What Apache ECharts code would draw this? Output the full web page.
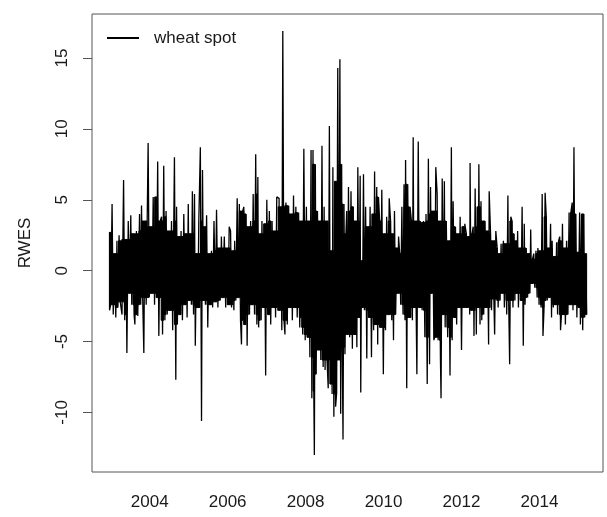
<!DOCTYPE html>
<html>
<head>
<meta charset="utf-8">
<script src="https://cdn.jsdelivr.net/npm/echarts@6/dist/echarts.min.js"></script>
<style>
html,body{margin:0;padding:0;background:#fff;}
#chart{width:607px;height:517px;}
</style>
</head>
<body>
<div id="chart"></div>
<script>
// Series name and axis labels
const seriesName = 'wheat spot';
const yAxisName = 'RWES';
const xTickYears = [2004, 2006, 2008, 2010, 2012, 2014];
const yTickValues = [-10, -5, 0, 5, 10, 15];

// Upper envelope of the daily series: [decimal year, value]
const upperEnvelope = [
[2002.97,2.7],[2003.04,4.7],[2003.11,1.2],[2003.17,2.1],[2003.23,2.5],[2003.34,6.4],[2003.40,2.2],[2003.47,3.5],[2003.54,3.9],[2003.60,2.6],[2003.68,2.8],[2003.77,4.0],[2003.81,4.6],[2003.88,3.5],[2003.98,9.0],[2004.05,3.1],[2004.11,5.2],[2004.15,5.2],[2004.21,7.7],[2004.28,3.5],[2004.33,3.8],[2004.39,7.4],[2004.45,4.2],[2004.51,2.8],[2004.58,3.5],[2004.67,8.0],[2004.71,4.5],[2004.77,2.4],[2004.84,2.8],[2004.91,4.0],[2004.95,2.6],[2005.01,4.7],[2005.06,2.6],[2005.11,5.6],[2005.16,5.4],[2005.22,1.2],[2005.27,3.5],[2005.33,8.7],[2005.38,7.1],[2005.42,3.1],[2005.48,3.9],[2005.54,1.2],[2005.61,1.4],[2005.68,3.5],[2005.74,4.3],[2005.80,1.6],[2005.86,2.4],
[2005.95,2.4],[2005.99,1.6],[2006.05,3.1],[2006.10,2.8],[2006.16,1.4],[2006.20,2.1],[2006.27,5.1],[2006.33,4.7],[2006.39,4.2],[2006.44,4.5],[2006.50,4.0],[2006.56,3.1],[2006.62,3.5],[2006.68,5.4],[2006.74,8.2],[2006.79,6.6],[2006.85,2.6],[2006.89,3.5],[2006.96,3.3],[2007.02,5.0],[2007.08,4.2],[2007.15,3.5],[2007.21,2.8],[2007.27,5.2],[2007.32,5.1],[2007.39,4.5],[2007.44,16.9],[2007.50,4.8],[2007.57,4.6],[2007.64,4.0],[2007.70,5.3],[2007.76,4.5],[2007.83,4.1],[2007.92,3.5],[2007.98,8.6],[2008.04,4.5],[2008.09,3.5],[2008.15,8.5],[2008.21,8.5],[2008.26,7.5],[2008.33,4.2],[2008.39,3.5],[2008.45,8.8],[2008.50,4.5],[2008.54,3.5],[2008.62,10.2],[2008.67,1.4],[2008.71,7.3],[2008.77,6.3],[2008.83,14.3],[2008.89,14.9],[2008.94,7.5],[2008.99,4.7],[2009.04,2.6],
[2009.07,4.2],[2009.13,5.9],[2009.20,5.6],[2009.24,4.5],[2009.30,3.5],[2009.35,7.3],[2009.41,6.7],[2009.45,0.7],[2009.50,6.8],[2009.56,4.5],[2009.61,3.1],[2009.67,4.5],[2009.73,4.0],[2009.78,7.0],[2009.84,5.9],[2009.88,5.2],[2009.92,3.5],[2009.98,5.7],[2010.03,2.6],[2010.09,3.8],[2010.15,5.1],[2010.21,3.5],[2010.24,2.6],[2010.29,4.2],[2010.35,1.6],[2010.39,2.4],[2010.44,1.2],[2010.50,4.5],[2010.55,6.1],[2010.58,7.8],[2010.63,6.1],[2010.69,4.5],[2010.74,3.5],[2010.78,9.4],[2010.84,3.5],[2010.91,9.1],[2010.95,3.5],[2010.99,3.4],[2011.06,3.5],[2011.12,4.0],[2011.18,7.9],[2011.23,5.9],[2011.29,4.2],[2011.35,7.3],[2011.40,5.4],[2011.46,3.5],[2011.52,6.5],[2011.57,6.3],[2011.63,3.5],[2011.69,2.1],[2011.76,8.7],[2011.81,4.9],[2011.86,3.1],[2011.92,2.6],[2011.98,3.8],[2012.04,3.1],[2012.10,3.3],
[2012.15,2.6],[2012.21,2.4],[2012.23,7.6],[2012.28,2.6],[2012.32,3.1],[2012.38,5.8],[2012.43,4.5],[2012.46,7.5],[2012.51,4.9],[2012.57,3.5],[2012.63,3.5],[2012.69,2.8],[2012.72,5.6],[2012.77,2.6],[2012.83,2.1],[2012.89,2.8],[2012.94,1.6],[2012.98,1.2],[2013.03,1.9],[2013.09,2.1],[2013.15,1.9],[2013.21,5.3],[2013.27,3.8],[2013.32,3.5],[2013.37,2.6],[2013.40,2.1],[2013.45,2.8],[2013.51,1.6],[2013.57,4.5],[2013.62,3.3],[2013.68,1.6],[2013.74,1.2],[2013.78,2.9],[2013.83,0.8],[2013.88,1.2],[2013.94,1.4],[2013.98,1.6],[2014.03,1.4],[2014.09,5.4],[2014.15,5.5],[2014.20,3.8],[2014.24,1.6],[2014.31,3.3],[2014.34,2.1],[2014.39,1.0],[2014.45,2.0],[2014.50,2.1],[2014.54,2.4],[2014.60,3.3],[2014.65,1.6],[2014.71,2.1],[2014.77,4.1],[2014.82,4.2],[2014.86,4.8],[2014.91,8.7],[2014.95,4.0],[2014.99,1.3],[2015.05,4.1],[2015.11,4.0],[2015.16,4.0],[2015.21,1.2]
];

// Lower envelope of the daily series: [decimal year, value]
const lowerEnvelope = [
[2002.97,-2.8],[2003.03,-2.4],[2003.09,-3.1],[2003.15,-3.3],[2003.20,-2.6],[2003.26,-2.2],[2003.32,-3.1],[2003.38,-3.5],[2003.43,-5.8],[2003.49,-1.6],[2003.54,-2.4],[2003.60,-3.1],[2003.64,-3.8],[2003.71,-3.2],[2003.77,-2.4],[2003.83,-1.9],[2003.87,-5.8],[2003.94,-2.4],[2004.00,-1.9],[2004.07,-1.6],[2004.14,-2.4],[2004.20,-1.9],[2004.26,-4.6],[2004.33,-4.5],[2004.39,-3.5],[2004.45,-3.1],[2004.54,-2.8],[2004.60,-4.2],[2004.67,-7.7],[2004.71,-3.8],[2004.77,-3.1],[2004.84,-3.5],[2004.91,-2.4],[2004.97,-3.3],[2005.01,-2.1],[2005.08,-2.4],[2005.14,-3.1],[2005.18,-5.3],[2005.25,-2.6],[2005.33,-10.6],[2005.38,-2.1],[2005.44,-2.4],[2005.50,-4.0],[2005.56,-2.4],[2005.62,-2.6],[2005.69,-2.2],[2005.76,-2.6],[2005.82,-2.1],[2005.88,-1.9],
[2005.95,-2.6],[2006.03,-2.4],[2006.10,-2.6],[2006.16,-2.8],[2006.22,-2.1],[2006.27,-1.9],[2006.33,-3.5],[2006.38,-5.2],[2006.44,-3.8],[2006.50,-5.3],[2006.56,-3.1],[2006.63,-2.4],[2006.70,-3.1],[2006.76,-3.8],[2006.80,-4.0],[2006.87,-3.5],[2006.93,-2.6],[2006.99,-7.4],[2007.06,-3.1],[2007.13,-3.8],[2007.19,-2.6],[2007.25,-3.3],[2007.32,-2.8],[2007.39,-4.2],[2007.45,-3.5],[2007.49,-4.5],[2007.56,-3.8],[2007.62,-2.6],[2007.68,-3.5],[2007.74,-2.6],[2007.81,-3.3],[2007.87,-4.0],[2007.93,-4.5],[2008.00,-4.9],[2008.07,-4.7],[2008.13,-6.1],[2008.17,-9.0],[2008.21,-8.5],[2008.24,-13.0],[2008.28,-7.3],[2008.34,-5.6],[2008.39,-6.3],[2008.45,-6.8],[2008.50,-7.0],[2008.56,-6.3],[2008.60,-8.3],[2008.65,-8.0],[2008.69,-8.7],[2008.74,-10.3],[2008.77,-9.6],[2008.82,-8.7],[2008.87,-6.3],[2008.91,-10.1],[2008.94,-5.4],[2008.98,-11.9],[2009.03,-5.9],
[2009.07,-4.5],[2009.13,-4.7],[2009.20,-5.5],[2009.27,-4.5],[2009.33,-5.4],[2009.39,-3.3],[2009.42,-8.6],[2009.47,-2.6],[2009.52,-2.8],[2009.58,-6.2],[2009.64,-3.3],[2009.71,-6.1],[2009.76,-4.2],[2009.81,-3.8],[2009.86,-5.2],[2009.93,-4.0],[2010.01,-7.3],[2010.07,-4.2],[2010.14,-3.1],[2010.21,-3.5],[2010.27,-4.9],[2010.33,-3.1],[2010.38,-1.6],[2010.44,-2.4],[2010.50,-3.1],[2010.55,-3.5],[2010.61,-8.3],[2010.67,-3.3],[2010.74,-3.5],[2010.78,-2.6],[2010.87,-7.3],[2010.93,-2.6],[2010.99,-2.8],[2011.06,-4.7],[2011.12,-8.0],[2011.18,-6.6],[2011.23,-1.6],[2011.29,-4.9],[2011.33,-4.7],[2011.40,-4.9],[2011.46,-6.3],[2011.49,-9.0],[2011.55,-3.1],[2011.59,-4.0],[2011.66,-4.7],[2011.72,-7.4],[2011.76,-4.9],[2011.83,-3.3],[2011.89,-3.8],[2011.95,-2.6],[2012.02,-5.6],[2012.07,-2.6],
[2012.15,-2.6],[2012.21,-3.1],[2012.26,-2.8],[2012.32,-4.6],[2012.38,-4.5],[2012.43,-2.6],[2012.49,-3.8],[2012.53,-3.5],[2012.57,-3.1],[2012.63,-2.6],[2012.70,-5.2],[2012.77,-2.8],[2012.83,-2.0],[2012.87,-4.5],[2012.94,-2.6],[2013.00,-2.1],[2013.06,-1.6],[2013.11,-2.6],[2013.17,-3.1],[2013.21,-2.1],[2013.26,-6.6],[2013.32,-2.6],[2013.37,-2.1],[2013.43,-1.6],[2013.47,-2.6],[2013.54,-2.1],[2013.60,-5.3],[2013.64,-2.4],[2013.71,-1.9],[2013.77,-1.6],[2013.81,-0.9],[2013.88,-1.2],[2013.94,-1.9],[2014.00,-2.4],[2014.05,-2.6],[2014.09,-4.6],[2014.14,-2.8],[2014.20,-2.1],[2014.26,-1.9],[2014.31,-3.3],[2014.37,-2.6],[2014.43,-2.4],[2014.48,-3.1],[2014.54,-4.2],[2014.58,-3.3],[2014.63,-3.1],[2014.68,-3.8],[2014.75,-3.1],[2014.80,-2.4],[2014.86,-2.8],[2014.91,-2.4],[2014.97,-3.3],[2015.01,-2.6],[2015.05,-3.8],[2015.11,-4.2],[2015.16,-3.3],[2015.21,-3.1]
];

// ---- build drawing data from the arrays ----
const byDate = (a, b) => a[0] - b[0];
const upperSorted = upperEnvelope.slice().sort(byDate);
const lowerSorted = lowerEnvelope.slice().sort(byDate);
// the line goes through all readings in time order
const lineData = upperSorted.concat(lowerSorted).sort(byDate);
// solid band underneath (single/double spikes are left to the line itself)
function core(arr, sign) {
  return arr.map((p, i) => {
    const prev = arr[Math.max(0, i - 1)][1] * sign;
    const next = arr[Math.min(arr.length - 1, i + 1)][1] * sign;
    return [p[0], Math.min(p[1] * sign, prev, next) * sign];
  });
}
// step outline (like per-pixel column extremes of a dense daily series)
function stepped(arr) {
  const out = [arr[0]];
  for (let i = 0; i < arr.length - 1; i++) {
    const m = (arr[i][0] + arr[i + 1][0]) / 2;
    out.push([m, arr[i][1]], [m, arr[i + 1][1]]);
  }
  out.push(arr[arr.length - 1]);
  return out;
}
const upperCore = stepped(core(upperSorted, 1));
const lowerCore = stepped(core(lowerSorted, -1));

const FONT = '"Liberation Sans", Arial, Helvetica, sans-serif';
const TXT = '#1a1a1a';
const LINE = '#555';

const chart = echarts.init(document.getElementById('chart'), null, {renderer: 'canvas'});
chart.setOption({
  animation: false,
  backgroundColor: '#fff',
  textStyle: {fontFamily: FONT},
  grid: {left: 92, right: 4, top: 14, bottom: 45, show: true, borderColor: LINE, borderWidth: 1, backgroundColor: 'transparent'},
  legend: {
    data: [{name: seriesName, icon: 'rect'}],
    left: 102, top: 22,
    itemWidth: 32, itemHeight: 2,
    selectedMode: false,
    textStyle: {fontFamily: FONT, fontSize: 17, color: TXT, lineHeight: 17, padding: [5, 0, 0, 10]},
    itemStyle: {color: '#000'}
  },
  xAxis: {
    type: 'value', min: 2002.52, max: 2015.63,
    splitLine: {show: false},
    axisLine: {show: false},
    axisTick: {show: true, length: 9, lineStyle: {color: LINE}, customValues: xTickYears},
    axisLabel: {show: true, margin: 22, fontSize: 17, color: TXT, fontFamily: FONT, customValues: xTickYears, formatter: v => String(v)}
  },
  yAxis: {
    type: 'value', min: -14.2, max: 18.1,
    name: yAxisName, nameLocation: 'middle', nameGap: 58,
    nameTextStyle: {fontSize: 17, color: TXT, fontFamily: FONT},
    splitLine: {show: false},
    axisLine: {show: false},
    axisTick: {show: true, length: 9, lineStyle: {color: LINE}, customValues: yTickValues},
    axisLabel: {show: true, rotate: 90, margin: 21, fontSize: 17, color: TXT, fontFamily: FONT, customValues: yTickValues, formatter: v => String(v)}
  },
  series: [
    {
      name: seriesName,
      type: 'custom',
      coordinateSystem: 'cartesian2d',
      silent: true,
      z: 2,
      data: [[2009, 0]],
      renderItem: function (params, api) {
        const pts = [];
        upperCore.forEach(p => pts.push(api.coord(p)));
        for (let i = lowerCore.length - 1; i >= 0; i--) pts.push(api.coord(lowerCore[i]));
        return {type: 'polygon', shape: {points: pts}, style: {fill: '#000', stroke: '#000', lineWidth: 1}};
      }
    },
    {
      name: seriesName,
      type: 'line',
      data: lineData,
      step: 'middle',
      symbol: 'none',
      showSymbol: false,
      z: 3,
      lineStyle: {color: '#000', width: 1.3},
      itemStyle: {color: '#000'}
    }
  ]
});
</script>
</body>
</html>
